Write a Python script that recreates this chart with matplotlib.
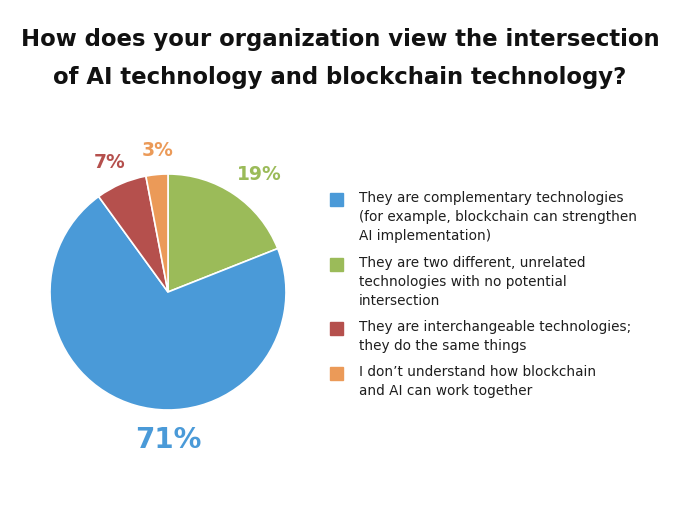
import matplotlib.pyplot as plt
from matplotlib.patches import Rectangle

# survey answers, in pie order (clockwise from 12 o'clock)
answers = [
    'They are two different, unrelated\ntechnologies with no potential\nintersection',
    'They are complementary technologies\n(for example, blockchain can strengthen\nAI implementation)',
    'They are interchangeable technologies;\nthey do the same things',
    'I don\u2019t understand how blockchain\nand AI can work together',
]
shares = [19, 71, 7, 3]
colors = ['#9bbb59', '#4a9ad8', '#b5504d', '#eb9a58']
legend_order = [1, 0, 2, 3]

title = ('How does your organization view the intersection\n'
         'of AI technology and blockchain technology?')

W, H = 680, 513
fig = plt.figure(figsize=(W / 100, H / 100), dpi=100)
ax = fig.add_axes([0, 0, 1, 1])

font = 'DejaVu Sans'

wedges, texts, pcts = ax.pie(shares, colors=colors, startangle=90,
                             counterclock=False, center=(168, H - 292),
                             radius=118, autopct='%d%%', pctdistance=1.21,
                             wedgeprops=dict(edgecolor='white', linewidth=1.2),
                             frame=True)
ax.set_xlim(0, W)
ax.set_ylim(0, H)
ax.set_aspect('equal')
ax.axis('off')
for t, c in zip(pcts, colors):
    t.set_color(c)
    t.set_fontweight('bold')
    t.set_fontsize(13.5)
    t.set_family(font)
# nudge the labels to where the original puts them
label_pos = [(259, 175), (168, 440), (110, 162), (158, 150)]
for t, (px, py) in zip(pcts, label_pos):
    t.set_position((px, H - py))
# the big share sits right under the pie
pcts[1].set_fontsize(20)

ax.text(W / 2, H - 58.5, title, ha='center', va='center', fontsize=16.4,
        fontweight='bold', family=font, color='#111111', linespacing=1.85)

# legend, drawn by hand to keep the wrapped lines
ys = [199, 264, 328, 373]
for y, i in zip(ys, legend_order):
    ax.add_patch(Rectangle((330, H - y - 7), 13, 13, color=colors[i]))
    ax.text(359, H - y + 8, answers[i], ha='left', va='top', fontsize=9.8,
            family=font, color='#1e1e1e', linespacing=1.45)

fig.savefig('out.png', dpi=100)
